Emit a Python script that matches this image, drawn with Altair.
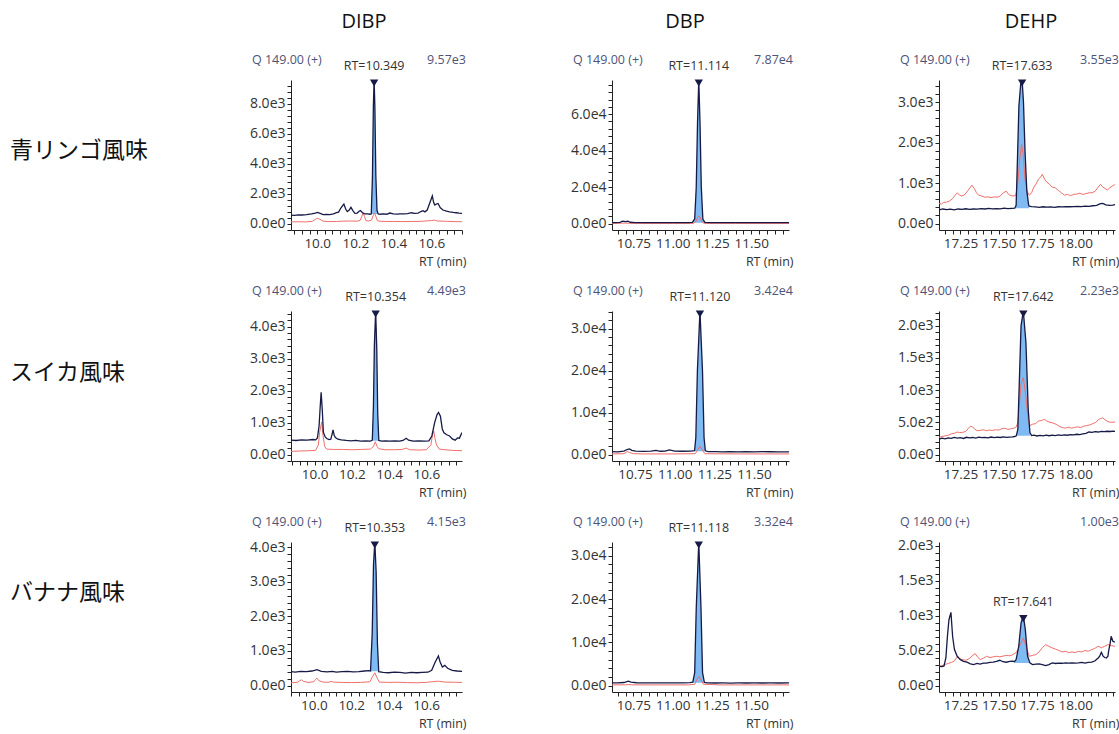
import altair as alt
import numpy as np
import pandas as pd

COMPOUNDS = ["DIBP", "DBP", "DEHP"]
FLAVORS = ["青リンゴ風味", "スイカ風味", "バナナ風味"]
ION_LABEL = "Q 149.00 (+)"
RT_TEXT = [["RT=10.349", "RT=11.114", "RT=17.633"],
           ["RT=10.354", "RT=11.120", "RT=17.642"],
           ["RT=10.353", "RT=11.118", "RT=17.641"]]
MAX_TEXT = [["9.57e3", "7.87e4", "3.55e3"],
            ["4.49e3", "3.42e4", "2.23e3"],
            ["4.15e3", "3.32e4", "1.00e3"]]
Y_TOP = [[9570, 78700, 3550], [4490, 34200, 2230], [4150, 33200, 2050]]
X_DOMAIN = [[(9.862, 10.761), (10.614, 11.740), (17.110, 18.260)],
            [(9.873, 10.792), (10.605, 11.720), (17.110, 18.260)],
            [(9.878, 10.792), (10.614, 11.740), (17.110, 18.260)]]
X_MAJOR = [0.2, 0.25, 0.25]
X_FORMAT = [".1f", ".2f", ".2f"]
Y_MAJOR = [[2000, 20000, 1000], [1000, 10000, 500], [1000, 10000, 500]]
# integration window: start, end, baseline
FILL = [[(10.284, 10.320, 630), (11.125, 11.205, 450), (17.605, 17.700, 380)],
        [(10.310, 10.345, 430), (11.125, 11.193, 800), (17.615, 17.704, 290)],
        [(10.303, 10.347, 410), (11.128, 11.202, 620), (17.603, 17.704, 323)]]

# ---- row 1: 青リンゴ風味 ----
DIBP_APPLE_QUANT = [(9.862, 560), (9.880, 550), (9.900, 580), (9.920, 570), (9.944, 600), (9.970, 640), (9.990, 700),
    (10.000, 740), (10.012, 690), (10.031, 600), (10.050, 610), (10.066, 590), (10.085, 650), (10.101, 720),
    (10.112, 760), (10.125, 1050), (10.140, 1300), (10.150, 950), (10.158, 800), (10.168, 900), (10.177, 1080),
    (10.188, 850), (10.198, 680), (10.210, 700), (10.220, 820), (10.227, 860), (10.238, 720), (10.250, 640),
    (10.265, 640), (10.276, 620), (10.284, 640), (10.290, 3000), (10.295, 7800), (10.299, 9570), (10.303, 7800),
    (10.308, 3200), (10.314, 900), (10.320, 640), (10.332, 620), (10.346, 640), (10.365, 620), (10.381, 700),
    (10.400, 640), (10.420, 630), (10.434, 650), (10.455, 640), (10.475, 660), (10.495, 720), (10.510, 680),
    (10.530, 700), (10.545, 800), (10.556, 860), (10.566, 780), (10.578, 900), (10.591, 1350), (10.605, 1840),
    (10.612, 1400), (10.618, 1230), (10.626, 1300), (10.635, 1340), (10.647, 1050), (10.661, 900), (10.680, 820),
    (10.696, 780), (10.715, 740), (10.731, 720), (10.745, 690), (10.761, 680)]
DIBP_APPLE_QUAL = [(9.862, 110), (9.900, 120), (9.944, 110), (9.975, 150), (9.990, 280), (10.000, 340), (10.012, 300),
    (10.030, 160), (10.066, 130), (10.101, 140), (10.140, 160), (10.177, 170), (10.210, 160), (10.225, 200),
    (10.235, 500), (10.241, 700), (10.248, 480), (10.256, 190), (10.270, 170), (10.285, 220), (10.293, 500),
    (10.301, 700), (10.308, 480), (10.316, 200), (10.330, 150), (10.360, 140), (10.400, 140), (10.450, 130),
    (10.500, 140), (10.550, 150), (10.600, 200), (10.615, 230), (10.630, 170), (10.680, 150), (10.720, 130),
    (10.761, 120)]
DBP_APPLE_QUANT = [(10.614, 450), (10.640, 500), (10.665, 600), (10.682, 1300), (10.700, 1100), (10.715, 1250),
    (10.730, 700), (10.760, 500), (10.800, 450), (10.850, 480), (10.900, 450), (10.950, 470), (11.000, 450),
    (11.050, 460), (11.100, 480), (11.125, 600), (11.140, 2500), (11.150, 20000), (11.158, 55000), (11.166, 78700),
    (11.174, 55000), (11.182, 20000), (11.192, 2500), (11.205, 600), (11.230, 480), (11.300, 450), (11.350, 470),
    (11.400, 450), (11.450, 460), (11.500, 450), (11.550, 470), (11.600, 450), (11.650, 460), (11.700, 450),
    (11.740, 460)]
DBP_APPLE_QUAL = [(10.614, 80), (10.680, 200), (10.700, 250), (10.720, 150), (10.800, 80), (11.000, 80), (11.130, 100),
    (11.148, 1000), (11.158, 3200), (11.166, 4200), (11.175, 3200), (11.185, 1000), (11.200, 100), (11.400, 80),
    (11.740, 80)]
DEHP_APPLE_QUANT = [(17.111, 340), (17.135, 360), (17.160, 345), (17.185, 355), (17.210, 340), (17.235, 360),
    (17.260, 350), (17.285, 365), (17.310, 350), (17.335, 360), (17.360, 355), (17.385, 370), (17.410, 360),
    (17.435, 375), (17.460, 365), (17.485, 370), (17.510, 365), (17.535, 380), (17.560, 370), (17.585, 375),
    (17.605, 380), (17.614, 450), (17.622, 1500), (17.632, 2900), (17.645, 3500), (17.653, 3550), (17.662, 3000),
    (17.672, 1800), (17.684, 800), (17.696, 450), (17.700, 430), (17.715, 420), (17.740, 410), (17.765, 400),
    (17.790, 415), (17.815, 405), (17.840, 410), (17.865, 400), (17.890, 415), (17.915, 410), (17.940, 420),
    (17.965, 415), (17.990, 420), (18.015, 425), (18.040, 420), (18.065, 430), (18.090, 425), (18.115, 440),
    (18.140, 450), (18.165, 490), (18.180, 500), (18.200, 460), (18.225, 450), (18.245, 455), (18.260, 470)]
DEHP_APPLE_QUAL = [(17.111, 500), (17.125, 480), (17.140, 520), (17.160, 530), (17.180, 560), (17.200, 620),
    (17.215, 700), (17.230, 760), (17.245, 700), (17.260, 680), (17.280, 720), (17.300, 820), (17.315, 900),
    (17.325, 950), (17.340, 870), (17.355, 760), (17.370, 700), (17.390, 680), (17.410, 650), (17.430, 660),
    (17.450, 640), (17.470, 660), (17.490, 650), (17.510, 680), (17.530, 760), (17.550, 800), (17.565, 720),
    (17.580, 690), (17.600, 680), (17.612, 700), (17.625, 1000), (17.638, 1600), (17.650, 1960), (17.660, 1700),
    (17.672, 1100), (17.685, 800), (17.700, 700), (17.715, 760), (17.730, 900), (17.745, 980), (17.760, 1100),
    (17.775, 1150), (17.785, 1220), (17.800, 1100), (17.815, 1020), (17.830, 980), (17.850, 900), (17.870, 880),
    (17.890, 820), (17.910, 760), (17.930, 700), (17.950, 720), (17.970, 690), (17.990, 720), (18.010, 730),
    (18.030, 750), (18.050, 720), (18.070, 740), (18.090, 760), (18.110, 760), (18.130, 800), (18.150, 900),
    (18.165, 970), (18.180, 900), (18.195, 870), (18.210, 830), (18.225, 880), (18.240, 920), (18.255, 960),
    (18.260, 950)]

# ---- row 2: スイカ風味 ----
DIBP_MELON_QUANT = [(9.873, 450), (9.900, 440), (9.930, 460), (9.960, 450), (9.990, 470), (10.005, 460), (10.015, 520),
    (10.024, 900), (10.030, 1500), (10.035, 1950), (10.041, 1400), (10.047, 700), (10.056, 560), (10.065, 500),
    (10.078, 470), (10.087, 480), (10.094, 640), (10.099, 770), (10.105, 600), (10.112, 530), (10.125, 480),
    (10.143, 460), (10.170, 440), (10.195, 430), (10.220, 440), (10.248, 420), (10.275, 430), (10.300, 420),
    (10.310, 450), (10.316, 1500), (10.321, 3400), (10.328, 4490), (10.334, 3300), (10.339, 1300), (10.345, 440),
    (10.360, 420), (10.380, 430), (10.405, 420), (10.430, 430), (10.457, 420), (10.475, 440), (10.492, 510),
    (10.505, 450), (10.530, 420), (10.562, 430), (10.590, 420), (10.614, 430), (10.630, 580), (10.645, 1000),
    (10.658, 1250), (10.666, 1316), (10.676, 1200), (10.686, 800), (10.695, 680), (10.710, 620), (10.725, 580),
    (10.740, 490), (10.755, 450), (10.768, 520), (10.778, 510), (10.785, 600), (10.792, 690)]
DIBP_MELON_QUAL = [(9.873, 100), (9.920, 110), (9.970, 120), (10.005, 130), (10.020, 300), (10.027, 700),
    (10.038, 1020), (10.045, 600), (10.054, 250), (10.065, 170), (10.100, 160), (10.150, 160), (10.200, 150),
    (10.250, 160), (10.300, 170), (10.316, 250), (10.326, 400), (10.336, 250), (10.345, 180), (10.380, 150),
    (10.430, 150), (10.470, 160), (10.492, 200), (10.510, 150), (10.560, 140), (10.600, 150), (10.625, 300),
    (10.633, 600), (10.640, 740), (10.647, 500), (10.655, 300), (10.670, 170), (10.700, 150), (10.740, 130),
    (10.792, 120)]
DBP_MELON_QUANT = [(10.605, 700), (10.640, 650), (10.680, 800), (10.700, 1200), (10.715, 1350), (10.730, 1000),
    (10.754, 800), (10.800, 750), (10.850, 800), (10.882, 1000), (10.910, 780), (10.940, 800), (10.967, 1100),
    (11.000, 800), (11.050, 780), (11.100, 800), (11.125, 900), (11.133, 4000), (11.143, 20000), (11.159, 34200),
    (11.175, 20000), (11.185, 4000), (11.193, 900), (11.210, 700), (11.260, 680), (11.300, 650), (11.350, 700),
    (11.400, 640), (11.450, 660), (11.500, 650), (11.550, 700), (11.600, 660), (11.650, 640), (11.720, 650)]
DBP_MELON_QUAL = [(10.605, 150), (10.680, 200), (10.701, 700), (10.715, 500), (10.740, 200), (10.800, 150),
    (11.000, 150), (11.130, 200), (11.148, 1300), (11.159, 2000), (11.170, 1300), (11.190, 200), (11.400, 150),
    (11.720, 150)]
DEHP_MELON_QUANT = [(17.111, 240), (17.130, 255), (17.150, 245), (17.170, 260), (17.190, 250), (17.210, 265),
    (17.230, 255), (17.250, 262), (17.270, 250), (17.290, 268), (17.310, 258), (17.330, 265), (17.350, 255),
    (17.370, 270), (17.390, 262), (17.410, 268), (17.430, 260), (17.450, 272), (17.470, 262), (17.490, 270),
    (17.510, 265), (17.530, 275), (17.550, 268), (17.570, 272), (17.590, 275), (17.605, 280), (17.615, 290),
    (17.625, 390), (17.636, 1220), (17.646, 2000), (17.661, 2230), (17.678, 1740), (17.693, 700), (17.704, 340),
    (17.715, 295), (17.730, 300), (17.750, 288), (17.770, 298), (17.790, 290), (17.810, 300), (17.830, 292),
    (17.850, 302), (17.870, 295), (17.890, 305), (17.910, 298), (17.930, 305), (17.950, 300), (17.970, 310),
    (17.990, 305), (18.010, 315), (18.030, 310), (18.050, 320), (18.070, 330), (18.090, 350), (18.110, 345),
    (18.130, 355), (18.150, 350), (18.170, 360), (18.190, 355), (18.210, 362), (18.230, 358), (18.245, 365),
    (18.260, 360)]
DEHP_MELON_QUAL = [(17.111, 270), (17.130, 280), (17.150, 290), (17.170, 300), (17.190, 320), (17.210, 330),
    (17.229, 350), (17.245, 340), (17.265, 345), (17.285, 360), (17.300, 400), (17.315, 440), (17.330, 430),
    (17.345, 390), (17.360, 370), (17.380, 375), (17.400, 385), (17.420, 370), (17.440, 380), (17.460, 375),
    (17.480, 385), (17.500, 380), (17.520, 400), (17.540, 410), (17.560, 390), (17.580, 400), (17.600, 410),
    (17.615, 430), (17.625, 500), (17.636, 800), (17.646, 1100), (17.661, 1195), (17.678, 900), (17.693, 520),
    (17.704, 450), (17.720, 470), (17.740, 480), (17.760, 520), (17.780, 530), (17.800, 545), (17.815, 520),
    (17.835, 500), (17.855, 490), (17.875, 470), (17.895, 440), (17.915, 420), (17.935, 410), (17.955, 425),
    (17.975, 410), (17.995, 420), (18.015, 430), (18.035, 420), (18.055, 440), (18.075, 450), (18.095, 460),
    (18.115, 480), (18.135, 500), (18.150, 540), (18.165, 560), (18.180, 570), (18.195, 540), (18.215, 510),
    (18.235, 500), (18.260, 505)]

# ---- row 3: バナナ風味 ----
DIBP_BANANA_QUANT = [(9.878, 400), (9.900, 390), (9.930, 410), (9.960, 400), (9.990, 420), (10.017, 460),
    (10.040, 410), (10.070, 395), (10.099, 410), (10.120, 390), (10.150, 400), (10.180, 410), (10.210, 395),
    (10.240, 405), (10.270, 420), (10.295, 430), (10.303, 420), (10.312, 1500), (10.319, 3500), (10.326, 4150),
    (10.333, 3300), (10.340, 1200), (10.347, 400), (10.370, 380), (10.400, 370), (10.430, 390), (10.460, 380),
    (10.490, 360), (10.520, 380), (10.550, 370), (10.580, 380), (10.610, 385), (10.630, 440), (10.649, 680),
    (10.666, 854), (10.675, 680), (10.687, 534), (10.700, 583), (10.715, 500), (10.740, 440), (10.765, 420),
    (10.792, 408)]
DIBP_BANANA_QUAL = [(9.878, 80), (9.910, 90), (9.925, 140), (9.934, 165), (9.945, 120), (9.970, 90), (10.000, 110),
    (10.010, 180), (10.017, 214), (10.027, 140), (10.050, 100), (10.080, 95), (10.092, 117), (10.105, 100),
    (10.150, 90), (10.200, 85), (10.250, 90), (10.300, 110), (10.313, 250), (10.326, 369), (10.338, 220),
    (10.350, 100), (10.400, 90), (10.450, 95), (10.500, 85), (10.550, 80), (10.600, 90), (10.630, 110),
    (10.666, 126), (10.700, 100), (10.750, 95), (10.792, 90)]
DBP_BANANA_QUANT = [(10.614, 600), (10.650, 620), (10.690, 700), (10.718, 1000), (10.735, 800), (10.770, 650),
    (10.820, 620), (10.870, 600), (10.920, 620), (10.970, 600), (11.020, 610), (11.070, 620), (11.110, 680),
    (11.128, 800), (11.140, 3000), (11.150, 18000), (11.166, 33200), (11.180, 18000), (11.190, 3000),
    (11.202, 700), (11.220, 600), (11.270, 590), (11.320, 600), (11.370, 580), (11.420, 600), (11.470, 590),
    (11.520, 600), (11.570, 590), (11.620, 600), (11.680, 590), (11.740, 600)]
DBP_BANANA_QUAL = [(10.614, 150), (10.700, 170), (10.720, 250), (10.740, 160), (10.900, 150), (11.100, 150),
    (11.140, 300), (11.155, 1500), (11.166, 2170), (11.178, 1500), (11.195, 300), (11.300, 150), (11.740, 150)]
DEHP_BANANA_QUANT = [(17.111, 275), (17.130, 270), (17.143, 280), (17.155, 400), (17.165, 700), (17.175, 940),
    (17.188, 1045), (17.199, 700), (17.211, 513), (17.229, 418), (17.250, 370), (17.270, 345), (17.293, 333),
    (17.315, 310), (17.336, 300), (17.358, 315), (17.379, 305), (17.400, 320), (17.421, 320), (17.443, 330),
    (17.464, 333), (17.486, 345), (17.507, 361), (17.528, 340), (17.550, 333), (17.572, 345), (17.593, 347),
    (17.603, 340), (17.614, 371), (17.631, 561), (17.646, 893), (17.661, 1000), (17.674, 798), (17.689, 418),
    (17.704, 323), (17.721, 300), (17.743, 305), (17.764, 309), (17.785, 300), (17.807, 285), (17.828, 300),
    (17.850, 323), (17.872, 315), (17.893, 320), (17.915, 318), (17.936, 323), (17.957, 320), (17.979, 325),
    (18.000, 320), (18.021, 323), (18.043, 330), (18.064, 320), (18.085, 330), (18.107, 333), (18.128, 350),
    (18.150, 394), (18.160, 420), (18.171, 475), (18.182, 420), (18.193, 400), (18.203, 394), (18.214, 420),
    (18.218, 489), (18.228, 600), (18.235, 703), (18.246, 632), (18.260, 620)]
DEHP_BANANA_QUAL = [(17.111, 275), (17.130, 285), (17.150, 300), (17.170, 315), (17.190, 330), (17.210, 350),
    (17.229, 409), (17.245, 380), (17.265, 370), (17.285, 360), (17.305, 380), (17.325, 420), (17.346, 456),
    (17.365, 400), (17.379, 371), (17.400, 390), (17.421, 418), (17.443, 400), (17.464, 410), (17.486, 418),
    (17.507, 410), (17.528, 420), (17.550, 430), (17.572, 425), (17.593, 442), (17.614, 470), (17.625, 513),
    (17.646, 608), (17.661, 679), (17.678, 561), (17.700, 418), (17.721, 430), (17.743, 442), (17.764, 480),
    (17.785, 540), (17.807, 584), (17.828, 560), (17.850, 537), (17.872, 520), (17.893, 500), (17.915, 480),
    (17.936, 489), (17.957, 470), (17.979, 480), (18.000, 470), (18.021, 489), (18.043, 480), (18.064, 500),
    (18.085, 490), (18.107, 513), (18.128, 530), (18.150, 561), (18.171, 540), (18.193, 560), (18.214, 584),
    (18.235, 570), (18.260, 561)]

TRACES = [[(DIBP_APPLE_QUANT, DIBP_APPLE_QUAL), (DBP_APPLE_QUANT, DBP_APPLE_QUAL), (DEHP_APPLE_QUANT, DEHP_APPLE_QUAL)],
          [(DIBP_MELON_QUANT, DIBP_MELON_QUAL), (DBP_MELON_QUANT, DBP_MELON_QUAL), (DEHP_MELON_QUANT, DEHP_MELON_QUAL)],
          [(DIBP_BANANA_QUANT, DIBP_BANANA_QUAL), (DBP_BANANA_QUANT, DBP_BANANA_QUAL), (DEHP_BANANA_QUANT, DEHP_BANANA_QUAL)]]

# ---- styling ----
NAVY = "#161b46"
RED = "#ef6f6c"
FILL_C = "#7fbaf2"
HDR_C = "#4e5478"
TXT_C = "#333333"
FONT = "Open Sans"
JP_FONT = "Noto Sans CJK JP"
WIDTHS = [171, 177, 176]
HEIGHT = 150
TITLE_X = [73, 73, 92]
ROW_LABEL_Y = [71, 62, 51]


def text_layer(txt, **kw):
    enc = {k: alt.value(v) for k, v in kw.pop("pos").items()}
    return alt.Chart(pd.DataFrame({"t": [txt]})).mark_text(**kw).encode(text="t:N", **enc)


def panel(r, c):
    W = WIDTHS[c]
    top = Y_TOP[r][c]
    x0, x1 = X_DOMAIN[r][c]
    y0 = -0.045 * top
    xs = alt.Scale(domain=[x0, x1], nice=False, zero=False)
    ys = alt.Scale(domain=[y0, top], nice=False, zero=False)

    quant = pd.DataFrame(TRACES[r][c][0], columns=["rt", "v"])
    qual = pd.DataFrame(TRACES[r][c][1], columns=["rt", "v"])
    s, e, b = FILL[r][c]
    fill = quant[(quant.rt >= s - 1e-9) & (quant.rt <= e + 1e-9)].assign(b=b)
    apex = fill.loc[[fill.v.idxmax()]].assign(t=RT_TEXT[r][c])

    xmaj = X_MAJOR[c]
    xmin = xmaj / 5
    xvals = [round(float(v), 4) for v in np.arange(np.ceil(x0 / xmin - 1e-9) * xmin, x1 + 1e-9, xmin)]
    ymaj = Y_MAJOR[r][c]
    ymin = ymaj / 5
    yvals = [float(v) for v in np.arange(np.ceil(y0 / ymin) * ymin, top + 1e-9, ymin)]
    x_last = x1 - 0.05

    x_axis = alt.Axis(
        values=xvals,
        labelExpr=(f"abs(datum.value/{xmaj} - round(datum.value/{xmaj})) < 0.001 && datum.value < {x_last}"
                   f" ? format(datum.value, '{X_FORMAT[c]}') : ''"),
        tickSize=4, labelPadding=2, labelOverlap=False, labelFlush=False,
        grid=False, domainColor="#222222", tickColor="#222222",
        labelColor=TXT_C, labelFontSize=13.5, labelFont=FONT,
        title="RT (min)", titleX=W + 4, titleY=31, titleAlign="right", titleBaseline="middle",
        titleFontWeight="normal", titleFontSize=12.5, titleColor=TXT_C, titleFont=FONT,
    )
    y_axis = alt.Axis(
        values=yvals,
        labelExpr=f"abs(datum.value/{ymaj} - round(datum.value/{ymaj})) < 0.001 ? replace(format(datum.value, '.1e'), '+', '') : ''",
        tickSize=4, labelPadding=2, labelOverlap=False, labelFlush=False,
        grid=False, domainColor="#222222", tickColor="#222222",
        labelColor=TXT_C, labelFontSize=14, labelFont=FONT, title="",
    )
    X = alt.X("rt:Q", scale=xs, axis=x_axis)
    Y = alt.Y("v:Q", scale=ys, axis=y_axis)

    area = alt.Chart(fill).mark_area(color=FILL_C, opacity=1, clip=True).encode(x=X, y=Y, y2="b:Q")
    red = alt.Chart(qual).mark_line(color=RED, strokeWidth=1, clip=True).encode(x=X, y=Y)
    black = alt.Chart(quant).mark_line(color=NAVY, strokeWidth=1.3, clip=True).encode(x=X, y=Y)
    tri = alt.Chart(apex).mark_point(shape="triangle-down", filled=True, size=70, color=NAVY, opacity=1,
                                     yOffset=3).encode(x=X, y=Y)
    rtlab = alt.Chart(apex).mark_text(dy=-14, fontSize=12.5, font=FONT, color=TXT_C).encode(
        x=X, y=Y, text="t:N")

    layers = [area, red, black, tri, rtlab,
              text_layer(ION_LABEL, pos={"x": -39, "y": -20}, align="left", baseline="middle",
                         fontSize=12.5, font=FONT, color=HDR_C),
              text_layer(MAX_TEXT[r][c], pos={"x": W + 4, "y": -20}, align="right", baseline="middle",
                         fontSize=12.5, font=FONT, color=HDR_C)]
    if r == 0:
        layers.append(text_layer(COMPOUNDS[c], pos={"x": TITLE_X[c], "y": -58}, align="center",
                                 baseline="middle", fontSize=20, font=FONT, color="#111111"))
    if c == 0:
        layers.append(text_layer(FLAVORS[r], pos={"x": -281, "y": ROW_LABEL_Y[r]}, align="left",
                                 baseline="middle", fontSize=23, font=JP_FONT, color="#111111"))
    return alt.layer(*layers).properties(width=W, height=HEIGHT)


panels = [panel(r, c) for r in range(3) for c in range(3)]
chart = alt.concat(*panels, columns=3, spacing={"row": 81, "column": 150}, bounds="flush").properties(
    padding={"left": 10, "top": 12, "right": 0, "bottom": 0}
).configure_view(strokeWidth=0)

chart.save("out.html", embed_options={"renderer": "svg", "actions": False})
